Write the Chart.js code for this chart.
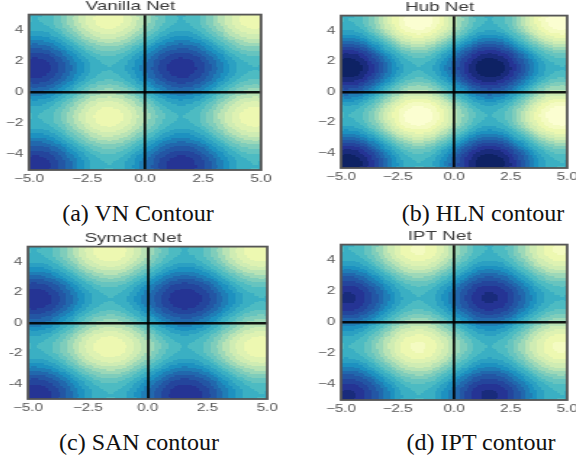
<!DOCTYPE html>
<html>
<head>
<meta charset="utf-8">
<script src="https://cdn.jsdelivr.net/npm/chart.js@4.4.1/dist/chart.umd.min.js"></script>
<style>
  html, body { margin: 0; padding: 0; background: #fff; }
  body { width: 576px; height: 461px; position: relative; overflow: hidden; }
  .cap { position: absolute; width: 300px; text-align: center; font-family: 'Liberation Serif', 'Times New Roman', serif;
         font-size: 24px; line-height: 24px; color: #111; white-space: nowrap; }
</style>
</head>
<body>
<script>
// surface profile read along the axes, x (and y) = -5.0 .. 5.0 step 0.1
const wave = [
  0.96, 0.98, 1.00, 1.00, 0.99, 0.98, 0.95, 0.92, 0.87, 0.82,
  0.76, 0.69, 0.61, 0.53, 0.44, 0.35, 0.26, 0.16, 0.06, -0.04,
  -0.14, -0.24, -0.33, -0.43, -0.52, -0.60, -0.68, -0.75, -0.81, -0.86,
  -0.91, -0.95, -0.97, -0.99, -1.00, -1.00, -0.99, -0.96, -0.93, -0.89,
  -0.84, -0.78, -0.72, -0.64, -0.56, -0.48, -0.39, -0.30, -0.20, -0.10,
  0.00,
  0.10, 0.20, 0.30, 0.39, 0.48, 0.56, 0.64, 0.72, 0.78, 0.84,
  0.89, 0.93, 0.96, 0.99, 1.00, 1.00, 0.99, 0.97, 0.95, 0.91,
  0.86, 0.81, 0.75, 0.68, 0.60, 0.52, 0.43, 0.33, 0.24, 0.14,
  0.04, -0.06, -0.16, -0.26, -0.35, -0.44, -0.53, -0.61, -0.69, -0.76,
  -0.82, -0.87, -0.92, -0.95, -0.98, -0.99, -1.00, -1.00, -0.98, -0.96
];
const panelTitles = ['Vanilla Net', 'Hub Net', 'Symact Net', 'IPT Net'];
const captions = ['(a) VN Contour', '(b) HLN contour', '(c) SAN contour', '(d) IPT contour'];
const peaks = [1.55, 2.0, 1.58, 1.65];   // highest value reached in each panel
const levels = [-2.0, -1.8, -1.6, -1.4, -1.2, -1.0, -0.8, -0.6, -0.4, -0.2, 0.0,
                0.2, 0.4, 0.6, 0.8, 1.0, 1.2, 1.4, 1.6, 1.8, 2.0];
const xTicks = [-5, -2.5, 0, 2.5, 5];
const xTickLabels = ['\u22125.0', '\u22122.5', '0.0', '2.5', '5.0'];
const yTicks = [-4, -2, 0, 2, 4];
const yTickLabels = ['\u22124', '\u22122', '0', '2', '4'];
const yTickLabelsSan = ['-4', '-2', '0', '2', '4'];

// layout (page pixels): plot area left/right/top/bottom, caption centre
const S = 1.45;            // horizontal stretch of the figure
const Y_W = 20, X_H = 18;
const layout = [
  { area: [28.5, 260, 15, 170],   cap: [138, 213] },
  { area: [341, 567, 15.5, 167.5], cap: [483, 213] },
  { area: [28, 267.5, 246.5, 399], cap: [139, 442] },
  { area: [341, 566.5, 245, 400],  cap: [481, 442] }
];

// YlGnBu
const ylgnbu = [[255,255,217],[237,248,177],[199,233,180],[127,205,187],[65,182,196],
                [29,145,192],[34,94,168],[37,52,148],[8,29,88]];
function cmap(t) {
  const p = Math.min(Math.max(t, 0), 1) * (ylgnbu.length - 1);
  const i = Math.min(Math.floor(p), ylgnbu.length - 2), f = p - i;
  return ylgnbu[i].map((c, k) => Math.round(c + (ylgnbu[i + 1][k] - c) * f));
}
const nb = levels.length - 1;
const bandColors = [];
for (let k = 0; k < nb; k++) bandColors.push(cmap((k + 0.5) / nb));
function bandOf(v) {
  let k = 0;
  while (k < nb - 1 && v >= levels[k + 1]) k++;
  return k;
}

const fieldPlugin = {
  id: 'contourField',
  beforeDatasetsDraw(chart, args, opts) {
    const grid = opts.grid;
    const { ctx, chartArea: a, scales: { x, y } } = chart;
    const n = wave.length, step = 10 / (n - 1);
    const x0 = Math.round(a.left), y0 = Math.round(a.top);
    const w = Math.round(a.right) - x0, h = Math.round(a.bottom) - y0;
    const img = ctx.createImageData(w, h);
    for (let py = 0; py < h; py++) {
      const j = Math.min(n - 1, Math.max(0, Math.round((y.getValueForPixel(y0 + py + 0.5) + 5) / step)));
      for (let px = 0; px < w; px++) {
        const i = Math.min(n - 1, Math.max(0, Math.round((x.getValueForPixel(x0 + px + 0.5) + 5) / step)));
        const c = bandColors[bandOf(grid[j][i])];
        const o = (py * w + px) * 4;
        img.data[o] = c[0]; img.data[o + 1] = c[1]; img.data[o + 2] = c[2]; img.data[o + 3] = 255;
      }
    }
    ctx.putImageData(img, x0, y0);
  }
};

const framePlugin = {
  id: 'frame',
  afterDraw(chart) {
    const { ctx, chartArea: a } = chart;
    ctx.save();
    ctx.strokeStyle = '#555';
    ctx.lineWidth = 1.8;
    ctx.strokeRect(a.left, a.top, a.right - a.left, a.bottom - a.top);
    ctx.restore();
  }
};

const tickFont = { family: "'Liberation Sans', Arial, sans-serif", size: 10.5 };
const zeroLine = ctx => (ctx.tick && ctx.tick.value === 0) ? 'rgba(0,0,0,0.9)' : 'rgba(0,0,0,0)';

panelTitles.forEach((title, p) => {
  const [l, r, t, b] = layout[p].area;
  const peak = peaks[p];
  const grid = wave.map(wy => wave.map(wx => (wx + wy) * peak / 2));
  const cw = Math.round(Y_W * 2 + (r - l) / S);
  const ch = Math.round(15.6 + (b - t) + X_H);
  const cv = document.createElement('canvas');
  cv.width = cw; cv.height = ch;
  cv.style.cssText = 'position:absolute;left:0;top:0;width:' + cw + 'px;height:' + ch + 'px;transform:scaleX(' + S + ');transform-origin:0 0;';
  document.body.appendChild(cv);
  const yLabels = p === 2 ? yTickLabelsSan : yTickLabels;
  const chart = new Chart(cv, {
    type: 'scatter',
    data: { datasets: [] },
    options: {
      responsive: false,
      animation: false,
      devicePixelRatio: 1,
      layout: { padding: { left: 0, right: Y_W, top: 0, bottom: 0 } },
      plugins: {
        legend: { display: false },
        tooltip: { enabled: false },
        title: { display: true, text: title, color: '#3a3a3a', padding: { top: 0, bottom: 0 },
                 font: { family: "'Liberation Sans', Arial, sans-serif", size: 13, weight: 'normal' } },
        contourField: { grid: grid }
      },
      scales: {
        x: {
          type: 'linear', min: -5, max: 5,
          afterBuildTicks: s => { s.ticks = xTicks.map(v => ({ value: v })); },
          afterFit: s => { s.height = X_H; },
          ticks: { autoSkip: false, maxRotation: 0, padding: 3, color: '#555', font: tickFont,
                   callback: (v, i) => xTickLabels[i] },
          grid: { z: 1, drawTicks: false, color: zeroLine, lineWidth: 1.8 },
          border: { display: false }
        },
        y: {
          type: 'linear', min: -5, max: 5,
          afterBuildTicks: s => { s.ticks = yTicks.map(v => ({ value: v })); },
          afterFit: s => { s.width = Y_W; },
          ticks: { autoSkip: false, padding: 4, color: '#555', font: tickFont,
                   callback: (v, i) => yLabels[i] },
          grid: { z: 1, drawTicks: false, color: zeroLine, lineWidth: 2.5 },
          border: { display: false }
        }
      }
    },
    plugins: [fieldPlugin, framePlugin]
  });
  const a = chart.chartArea;
  cv.style.left = (l - a.left * S) + 'px';
  cv.style.top = (t - a.top) + 'px';

  const cap = document.createElement('div');
  cap.className = 'cap';
  cap.textContent = captions[p];
  cap.style.left = (layout[p].cap[0] - 150) + 'px';
  cap.style.top = (layout[p].cap[1] - 12) + 'px';
  document.body.appendChild(cap);
});
</script>
</body>
</html>
